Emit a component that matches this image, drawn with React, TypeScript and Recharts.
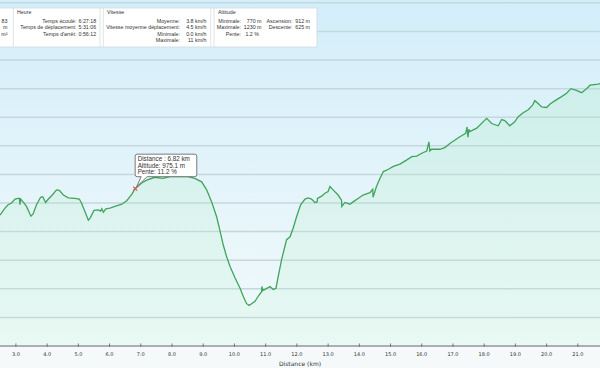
import React from 'react';
import { AreaChart, Area, XAxis, YAxis, CartesianGrid, ReferenceDot } from 'recharts';

const distanceKm = [
  2.49, 2.65, 2.75, 2.86, 2.97, 3.07, 3.11, 3.13, 3.15, 3.23,
  3.34, 3.48, 3.55, 3.66, 3.79, 3.86, 3.95, 4.04, 4.18, 4.30,
  4.39, 4.52, 4.68, 4.89, 5.03, 5.10, 5.21, 5.32, 5.39, 5.50,
  5.64, 5.71, 5.75, 5.80, 5.88, 6.01, 6.17, 6.39, 6.55, 6.71,
  6.82, 7.03, 7.19, 7.45, 7.71, 7.93, 8.25, 8.51, 8.73, 8.95,
  9.11, 9.27, 9.43, 9.53, 9.64, 9.75, 9.86, 10.02, 10.18, 10.28,
  10.39, 10.47, 10.55, 10.66, 10.76, 10.87, 10.88, 10.91, 10.98, 11.14,
  11.24, 11.33, 11.40, 11.51, 11.67, 11.78, 11.88, 11.99, 12.12, 12.26,
  12.36, 12.47, 12.58, 12.65, 12.66, 12.79, 12.90, 13.00, 13.06, 13.16,
  13.32, 13.43, 13.44, 13.54, 13.70, 13.80, 13.96, 14.12, 14.23, 14.34,
  14.43, 14.44, 14.55, 14.66, 14.77, 14.93, 15.09, 15.30, 15.51, 15.68,
  15.84, 16.00, 16.16, 16.23, 16.26, 16.31, 16.58, 16.74, 16.90, 17.22,
  17.41, 17.45, 17.48, 17.51, 17.54, 17.76, 18.08, 18.24, 18.45, 18.56,
  18.66, 18.82, 18.98, 19.09, 19.25, 19.41, 19.55, 19.62, 19.73, 19.84,
  20.00, 20.11, 20.27, 20.48, 20.64, 20.78, 20.96, 21.12, 21.28, 21.39,
  21.65, 21.71,
];

const altitudeM = [
  929, 941, 947, 950, 957, 958, 958, 947, 957, 952,
  944, 927, 931, 947, 960, 961, 951, 957, 965, 973,
  972, 964, 959, 958, 957, 950, 935, 920, 925, 937,
  938, 936, 940, 934, 940, 941, 944, 948, 954, 965,
  975.1, 985, 990, 995, 993, 996, 996, 996, 993, 987,
  973, 952, 926, 903, 877, 856, 839, 819, 801, 787,
  774, 771, 774, 778, 787, 795, 804, 797, 799, 804,
  799, 801, 821, 851, 886, 891, 906, 926, 947, 957,
  959, 957, 951, 952, 958, 962, 967, 970, 979, 973,
  964, 955, 944, 951, 948, 952, 958, 964, 966, 968,
  974, 960, 979, 993, 1005, 1009, 1014, 1018, 1025, 1031,
  1032, 1037, 1041, 1057, 1041, 1044, 1044, 1047, 1054, 1066,
  1072, 1083, 1065, 1079, 1075, 1081, 1098, 1089, 1085, 1096,
  1094, 1085, 1092, 1101, 1108, 1113, 1121, 1129, 1124, 1118,
  1117, 1123, 1129, 1136, 1142, 1150, 1147, 1143, 1150, 1156,
  1158, 1159,
];

const xTicks = [3, 4, 5, 6, 7, 8, 9, 10, 11, 12, 13, 14, 15, 16, 17, 18, 19, 20, 21];
const yTicks = [700, 750, 800, 850, 900, 950, 1000, 1050, 1100, 1150, 1200, 1250, 1300];
const xDomain = [2.49, 21.71];
const yDomain = [700, 1305];

const cursorPoint = { km: 6.82, alt: 975.1, slope: 11.2 };
const cursorLines = [
  `Distance : ${cursorPoint.km.toFixed(2)} km`,
  `Altitude: ${cursorPoint.alt.toFixed(1)} m`,
  `Pente: ${cursorPoint.slope.toFixed(1)} %`,
];

const firstGroupValues = ['83', 'm', 'm²'];
const heureLabels = ['Temps écoulé:', 'Temps de déplacement:', "Temps d'arrêt:"];
const heureValues = ['6:27:18', '5:31:06', '0:56:12'];
const vitesseLabels = ['Moyenne:', 'Vitesse moyenne déplacement:', 'Minimale:', 'Maximale:'];
const vitesseValues = ['3.8 km/h', '4.5 km/h', '0.0 km/h', '11 km/h'];
const altLabelsA = ['Minimale:', 'Maximale:', 'Pente:'];
const altValuesA = ['770 m', '1230 m', '1.2 %'];
const altLabelsB = ['Ascension:', 'Descente:'];
const altValuesB = ['912 m', '625 m'];

const data = distanceKm.map((km, i) => ({ km, alt: altitudeM[i] }));

const HF = 'Liberation Sans, Arial, sans-serif';

const AxisTick = (props: any) => {
  const { x, y, payload } = props;
  return (
    <g>
      <line x1={x} x2={x} y1={y - 2.5} y2={y + 1} stroke="#777" strokeWidth={1} />
      <text x={x} y={y + 10.3} textAnchor="middle" fontSize={5} fontFamily="DejaVu Sans, sans-serif" fill="#333">
        {Number(payload.value).toFixed(1)}
      </text>
    </g>
  );
};

const Bubble = (props: any) => {
  const { cx, cy } = props;
  if (cx == null || cy == null) return null;
  const L = cx, T = cy - 34.5, R = cx + 61.6, B = cy - 12;
  const r = 2;
  const d = `M${L + r},${T} L${R - r},${T} Q${R},${T} ${R},${T + r} L${R},${B - r} Q${R},${B} ${R - r},${B}
    L${cx + 12},${B} L${cx + 1.5},${cy - 2} L${cx + 6},${B} L${L + r},${B} Q${L},${B} ${L},${B - r} L${L},${T + r} Q${L},${T} ${L + r},${T} Z`;
  return (
    <g>
      <path d={d} fill="#ffffff" stroke="#5a5a5a" strokeWidth={0.8} />
      {cursorLines.map((t, i) => (
        <text key={i} x={L + 2.5} y={T + 7 + i * 6.6} fontSize={6.3} fontFamily={HF} fill="#333">{t}</text>
      ))}
      <line x1={cx - 2} y1={cy - 2} x2={cx + 2} y2={cy + 2} stroke="#e0564e" strokeWidth={1.2} />
      <line x1={cx - 2} y1={cy + 2} x2={cx + 2} y2={cy - 2} stroke="#e0564e" strokeWidth={1.2} />
    </g>
  );
};

const Header = () => {
  const fs = 5.3;
  const rowY = [22.8, 29.3, 35.8, 42.3];
  return (
    <svg width={600} height={50} style={{ position: 'absolute', left: 0, top: 0, pointerEvents: 'none' }}>
      <rect x={-1} y={8} width={318} height={39} fill="#ffffff" stroke="#cfd9de" strokeWidth={0.8} />
      <line x1={13.3} x2={13.3} y1={8} y2={47} stroke="#d6dde0" strokeWidth={0.8} />
      <line x1={100} x2={100} y1={8} y2={47} stroke="#d6dde0" strokeWidth={0.8} />
      <line x1={103.3} x2={103.3} y1={8} y2={47} stroke="#d6dde0" strokeWidth={0.8} />
      <line x1={210.7} x2={210.7} y1={8} y2={47} stroke="#d6dde0" strokeWidth={0.8} />
      <line x1={214} x2={214} y1={8} y2={47} stroke="#d6dde0" strokeWidth={0.8} />
      <g fontFamily={HF} fontSize={fs} fill="#333">
        {firstGroupValues.map((t, i) => (
          <text key={'f' + i} x={7.5} y={rowY[i]} textAnchor="end">{t}</text>
        ))}
        <text x={17} y={14.3}>Heure</text>
        {heureLabels.map((t, i) => (
          <text key={'hl' + i} x={76.5} y={rowY[i]} textAnchor="end">{t}</text>
        ))}
        {heureValues.map((t, i) => (
          <text key={'hv' + i} x={78.5} y={rowY[i]}>{t}</text>
        ))}
        <text x={107} y={14.3}>Vitesse</text>
        {vitesseLabels.map((t, i) => (
          <text key={'vl' + i} x={180} y={rowY[i]} textAnchor="end">{t}</text>
        ))}
        {vitesseValues.map((t, i) => (
          <text key={'vv' + i} x={206.5} y={rowY[i]} textAnchor="end">{t}</text>
        ))}
        <text x={218} y={14.3}>Altitude</text>
        {altLabelsA.map((t, i) => (
          <text key={'al' + i} x={241} y={rowY[i]} textAnchor="end">{t}</text>
        ))}
        {altValuesA.map((t, i) => (
          <text key={'av' + i} x={i === 2 ? 259 : 261.5} y={rowY[i]} textAnchor="end">{t}</text>
        ))}
        {altLabelsB.map((t, i) => (
          <text key={'bl' + i} x={292.5} y={rowY[i]} textAnchor="end">{t}</text>
        ))}
        {altValuesB.map((t, i) => (
          <text key={'bv' + i} x={310} y={rowY[i]} textAnchor="end">{t}</text>
        ))}
      </g>
    </svg>
  );
};

const gridYs = (props: any) => {
  const { yAxis, offset } = props;
  if (yAxis && typeof yAxis.scale === 'function') {
    return yTicks.map((t) => yAxis.scale(t));
  }
  const top = offset?.top ?? 0;
  const h = offset?.height ?? 346;
  return yTicks.map((t) => top + h * (1 - (t - yDomain[0]) / (yDomain[1] - yDomain[0])));
};

export default function App() {
  return (
    <div style={{ position: 'absolute', left: 0, top: 0, width: 600, height: 368, background: '#f6f9fa', overflow: 'hidden' }}>
      <AreaChart width={600} height={368} data={data} margin={{ top: 0, right: 0, bottom: 0, left: 0 }}>
        <defs>
          <linearGradient id="bgGrad" x1="0" y1="0" x2="0" y2="1">
            <stop offset="0%" stopColor="#d2eefa" />
            <stop offset="60%" stopColor="#e6f5fa" />
            <stop offset="100%" stopColor="#f2fafb" />
          </linearGradient>
          <linearGradient id="areaGrad" x1="0" y1="0" x2="0" y2="1">
            <stop offset="0%" stopColor="#9fe6b4" stopOpacity={0.22} />
            <stop offset="100%" stopColor="#bff3cf" stopOpacity={0.18} />
          </linearGradient>
        </defs>
        <CartesianGrid vertical={false} fill="url(#bgGrad)" fillOpacity={1} stroke="#c6d6dd" strokeWidth={1.5} horizontalCoordinatesGenerator={gridYs} />
        <XAxis
          dataKey="km"
          type="number"
          domain={xDomain}
          ticks={xTicks}
          allowDataOverflow
          height={22}
          tickSize={0}
          tickMargin={0}
          tickLine={false}
          tick={<AxisTick />}
          axisLine={{ stroke: '#808080', strokeWidth: 1 }}
          interval={0}
          label={{ value: 'Distance (km)', position: 'insideBottom', offset: 2.5, fontSize: 6, fontFamily: 'DejaVu Sans, sans-serif', fill: '#333' }}
        />
        <YAxis width={0} domain={yDomain} ticks={yTicks} tick={false} axisLine={false} tickLine={false} allowDataOverflow type="number" />
        <Area
          type="linear"
          dataKey="alt"
          stroke="#40a45b"
          strokeWidth={1.3}
          fill="url(#areaGrad)"
          fillOpacity={1}
          isAnimationActive={false}
          dot={false}
          activeDot={false}
        />
        <ReferenceDot x={cursorPoint.km} y={cursorPoint.alt} r={3} shape={<Bubble />} />
      </AreaChart>
      <Header />
    </div>
  );
}
